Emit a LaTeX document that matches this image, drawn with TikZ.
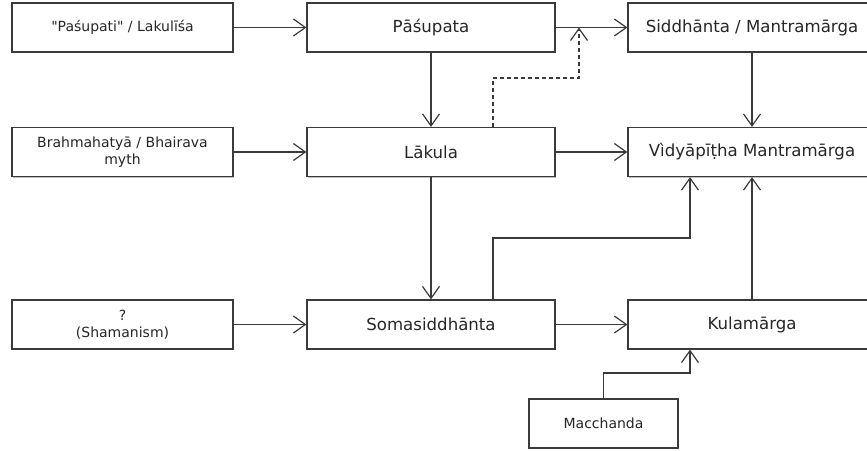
\documentclass[tikz,border=0pt]{standalone}
\usepackage{fontspec}
\newfontfamily\dvs{DejaVu Sans}
\usetikzlibrary{arrows.meta,positioning,shadows}
\definecolor{lineg}{HTML}{3A3A3A}
\tikzset{
  box/.style={draw=lineg, line width=1.2pt, fill=white, rectangle, minimum height=49pt, inner sep=2pt, align=center, text=black!85,
     drop shadow={shadow xshift=1.2pt, shadow yshift=-1.2pt, opacity=0.25, fill=black}},
  mainbox/.style={box, minimum width=248pt, font=\dvs\fontsize{16.6}{19.5}\selectfont},
  leftbox/.style={box, minimum width=221pt, font=\dvs\fontsize{14}{17}\selectfont},
  smallbox/.style={box, minimum width=149pt, font=\dvs\fontsize{14}{17}\selectfont},
  arr/.style={draw=lineg, line width=1.2pt, -{Straight Barb[length=12pt,width=17pt,line width=1.2pt]}},
  dsh/.style={dash pattern=on 4pt off 3pt}
}
\begin{document}
\begin{tikzpicture}[x=1pt,y=1pt]
\useasboundingbox (0,0) rectangle (867,-450);
\begin{scope}
\clip (0,0) rectangle (867,-450);
\node[leftbox] (lp) at (122.5,-27.5) {"Paśupati" / Lakulīśa};
\node[mainbox] (pas) at (431,-27.5) {Pāśupata};
\node[mainbox] (sid) at (752,-27.5) {Siddhānta / Mantramārga};
\node[leftbox] (brah) at (122.5,-152) {Brahmahatyā / Bhairava\\myth};
\node[mainbox] (lak) at (431,-152) {Lākula};
\node[mainbox] (vid) at (752,-152) {Vìdyāpīṭha Mantramārga};
\node[leftbox] (q) at (122.5,-324.5) {?\\(Shamanism)};
\node[mainbox] (soma) at (431,-324.5) {Somasiddhānta};
\node[mainbox] (kula) at (752,-324.5) {Kulamārga};
\node[smallbox] (mac) at (603.5,-423.5) {Macchanda};

\coordinate (dtip) at (579,-27.5);
\coordinate (d1) at ([xshift=62pt]lak.north);
\coordinate (s1) at ([xshift=62pt]soma.north);
\coordinate (v1) at ([xshift=-62pt]vid.south);
\coordinate (k1) at ([xshift=-62pt]kula.south);

\draw[arr] (lp) -- (pas);
\draw[arr] (pas) -- (sid);
\draw[arr] (brah) -- (lak);
\draw[arr] (lak) -- (vid);
\draw[arr] (q) -- (soma);
\draw[arr] (soma) -- (kula);
\draw[arr] (pas) -- (lak);
\draw[arr] (lak) -- (soma);
\draw[arr] (sid) -- (vid);
\draw[arr] (kula) -- (vid);
\draw[arr,dsh] (d1) -- (d1 |- 0,-78) -| (dtip);
\draw[arr] (s1) -- (s1 |- 0,-238) -| (v1);
\draw[arr] (mac.north) -- (mac.north |- 0,-373) -| (k1);
\end{scope}
\end{tikzpicture}
\end{document}
